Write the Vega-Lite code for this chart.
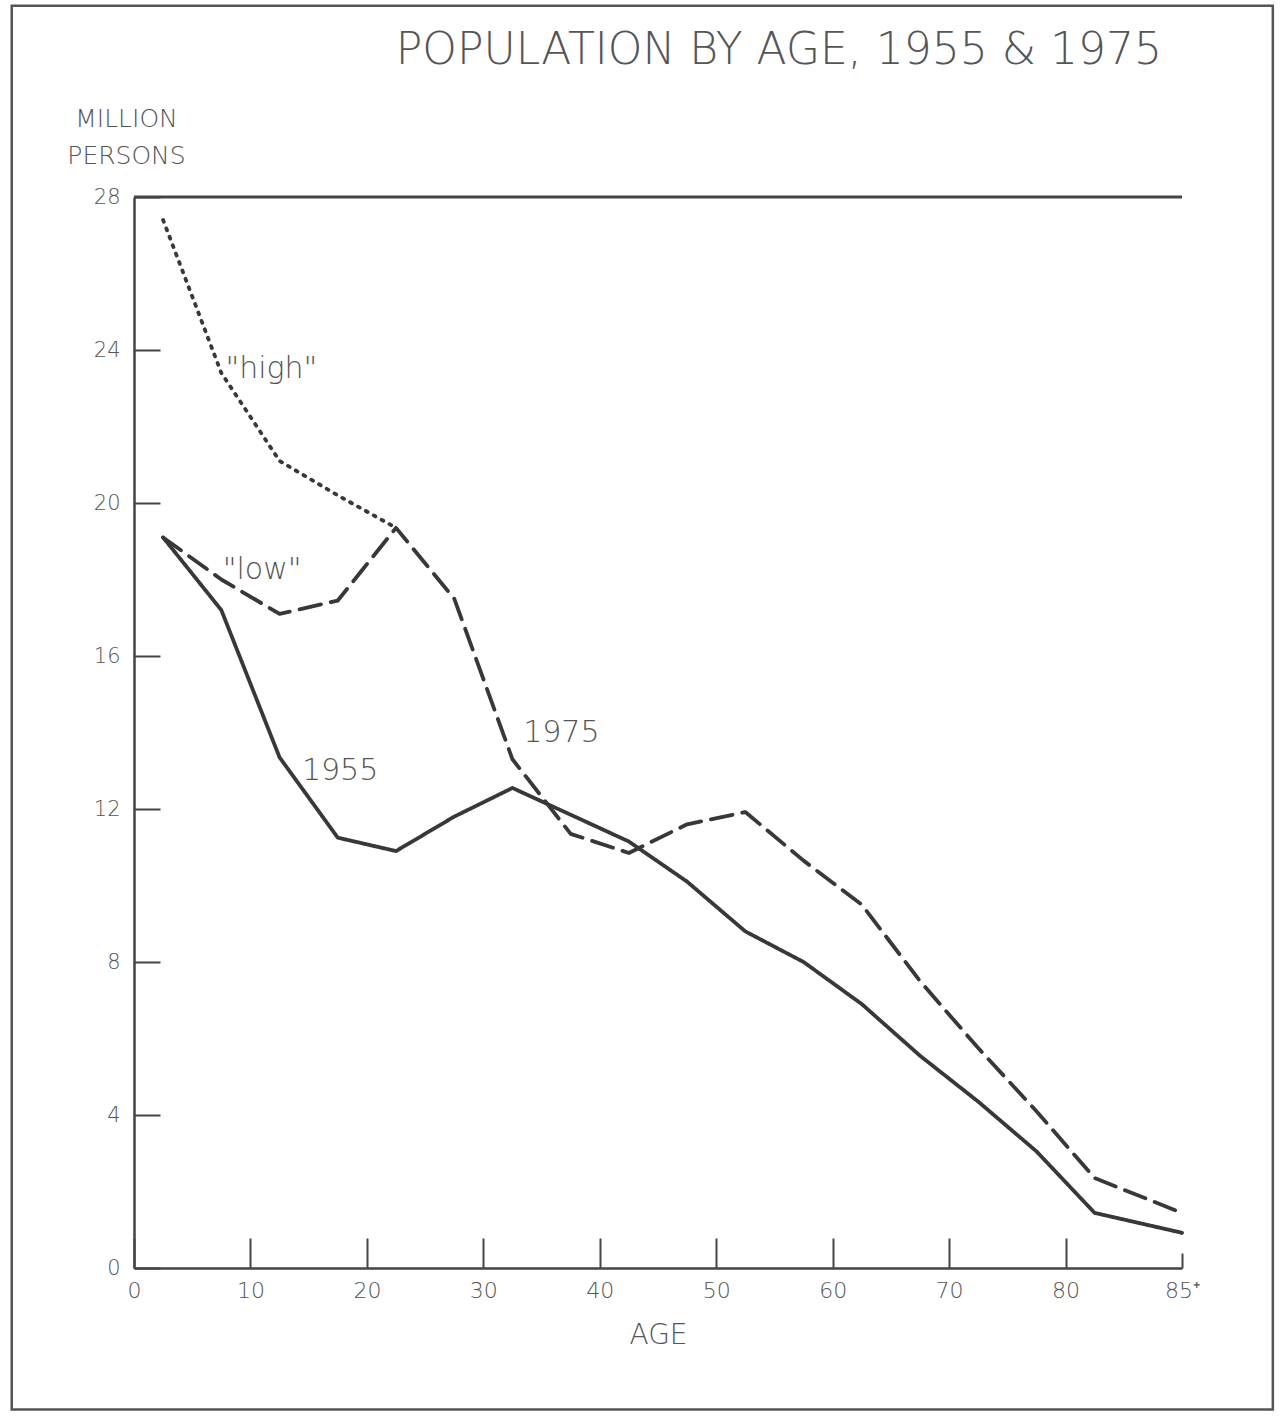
{
  "$schema": "https://vega.github.io/schema/vega-lite/v6.json",
  "width": 1048,
  "height": 1071,
  "autosize": {"type": "none"},
  "padding": {"left": 134, "top": 197, "right": 103, "bottom": 151},
  "background": "white",
  "config": {"view": {"stroke": null}, "font": "DejaVu Sans"},
  "title": {
    "text": "POPULATION BY AGE, 1955 & 1975",
    "anchor": "end",
    "frame": "group",
    "dx": -20,
    "offset": -68,
    "fontSize": 44,
    "fontWeight": 200,
    "color": "#555555"
  },
  "datasets": {
    "pop": [
      {"series": "1955", "age": 2.5, "value": 19.1},
      {"series": "1955", "age": 7.5, "value": 17.2},
      {"series": "1955", "age": 12.5, "value": 13.35},
      {"series": "1955", "age": 17.5, "value": 11.25},
      {"series": "1955", "age": 22.5, "value": 10.9},
      {"series": "1955", "age": 27.5, "value": 11.8},
      {"series": "1955", "age": 32.5, "value": 12.55},
      {"series": "1955", "age": 37.5, "value": 11.85},
      {"series": "1955", "age": 42.5, "value": 11.15},
      {"series": "1955", "age": 47.5, "value": 10.1},
      {"series": "1955", "age": 52.5, "value": 8.8},
      {"series": "1955", "age": 57.5, "value": 8.0},
      {"series": "1955", "age": 62.5, "value": 6.9},
      {"series": "1955", "age": 67.5, "value": 5.55},
      {"series": "1955", "age": 72.5, "value": 4.35},
      {"series": "1955", "age": 77.5, "value": 3.05},
      {"series": "1955", "age": 82.5, "value": 1.44},
      {"series": "1955", "age": 90, "value": 0.92},
      {"series": "1975", "age": 2.5, "value": 19.1},
      {"series": "1975", "age": 7.5, "value": 18.0},
      {"series": "1975", "age": 12.5, "value": 17.1},
      {"series": "1975", "age": 17.5, "value": 17.45},
      {"series": "1975", "age": 22.5, "value": 19.35},
      {"series": "1975", "age": 27.5, "value": 17.5},
      {"series": "1975", "age": 32.5, "value": 13.3},
      {"series": "1975", "age": 37.5, "value": 11.35},
      {"series": "1975", "age": 42.5, "value": 10.85},
      {"series": "1975", "age": 47.5, "value": 11.6},
      {"series": "1975", "age": 52.5, "value": 11.92},
      {"series": "1975", "age": 57.5, "value": 10.65},
      {"series": "1975", "age": 62.5, "value": 9.5},
      {"series": "1975", "age": 67.5, "value": 7.5},
      {"series": "1975", "age": 72.5, "value": 5.75},
      {"series": "1975", "age": 77.5, "value": 4.1},
      {"series": "1975", "age": 82.5, "value": 2.35},
      {"series": "1975", "age": 90, "value": 1.44},
      {"series": "high", "age": 2.5, "value": 27.4},
      {"series": "high", "age": 7.5, "value": 23.4},
      {"series": "high", "age": 12.5, "value": 21.1},
      {"series": "high", "age": 17.5, "value": 20.2},
      {"series": "high", "age": 22.5, "value": 19.35}
    ],
    "notes": [
      {"label": "\"high\"", "age": 11.8, "value": 23.5},
      {"label": "\"low\"", "age": 11.0, "value": 18.25},
      {"label": "1955", "age": 17.7, "value": 13.0},
      {"label": "1975", "age": 36.7, "value": 14.0}
    ]
  },
  "layer": [
    {
      "data": {"name": "pop"},
      "mark": {"type": "line", "stroke": "#383838", "strokeWidth": 3.8, "strokeCap": "round", "strokeJoin": "round"},
      "encoding": {
        "x": {
          "field": "age", "type": "quantitative",
          "scale": {"domain": [0, 90], "nice": false},
          "axis": {
            "title": "AGE",
            "values": [0, 10, 20, 30, 40, 50, 60, 70, 80, 90],
            "labelExpr": "datum.value == 90 ? '85⁺' : datum.label",
            "labelFlush": false,
            "grid": false,
            "domainColor": "#444444", "domainWidth": 2.5,
            "tickColor": "#444444", "tickWidth": 2,
            "tickSize": {"condition": {"test": "datum.value == 90", "value": -15}, "value": -30},
            "labelPadding": {"condition": {"test": "datum.value == 90", "value": 27}, "value": 42},
            "labelFontSize": 22, "labelColor": "#555555", "labelFontWeight": 200,
            "titleFontSize": 28, "titleColor": "#555555", "titleFontWeight": 200, "titlePadding": 20
          }
        },
        "y": {
          "field": "value", "type": "quantitative",
          "scale": {"domain": [0, 28], "nice": false},
          "axis": {
            "title": ["MILLION", "PERSONS"],
            "values": [0, 4, 8, 12, 16, 20, 24, 28],
            "grid": false,
            "domainColor": "#444444", "domainWidth": 2.5,
            "tickColor": "#444444", "tickWidth": 2, "tickSize": -26,
            "labelPadding": 40,
            "labelFontSize": 21, "labelColor": "#555555", "labelFontWeight": 200,
            "titleAngle": 0, "titleAlign": "center", "titleBaseline": "bottom",
            "titleX": -8, "titleY": -66, "titleLineHeight": 37,
            "titleFontSize": 25, "titleColor": "#555555", "titleFontWeight": 200
          }
        },
        "detail": {"field": "series"},
        "strokeDash": {
          "field": "series", "type": "nominal",
          "scale": {"domain": ["1955", "1975", "high"], "range": [[1, 0], [22, 10], [2, 7]]},
          "legend": null
        }
      }
    },
    {
      "data": {"values": [{}]},
      "mark": {"type": "rect", "fill": null, "stroke": "#555555", "strokeWidth": 2.5},
      "encoding": {
        "x": {"datum": -10.5, "type": "quantitative", "scale": {"domain": [0, 90]}},
        "x2": {"datum": 97.8},
        "y": {"datum": 33.0, "type": "quantitative", "scale": {"domain": [0, 28]}},
        "y2": {"datum": -3.7}
      }
    },
    {
      "data": {"values": [{}]},
      "mark": {"type": "rule", "stroke": "#444444", "strokeWidth": 3},
      "encoding": {
        "y": {"datum": 28, "type": "quantitative", "scale": {"domain": [0, 28]}}
      }
    },
    {
      "data": {"name": "notes"},
      "mark": {"type": "text", "fontSize": 30, "fontWeight": 200, "color": "#555555", "letterSpacing": 2},
      "encoding": {
        "x": {"field": "age", "type": "quantitative", "scale": {"domain": [0, 90]}},
        "y": {"field": "value", "type": "quantitative", "scale": {"domain": [0, 28]}},
        "text": {"field": "label"}
      }
    }
  ]
}
